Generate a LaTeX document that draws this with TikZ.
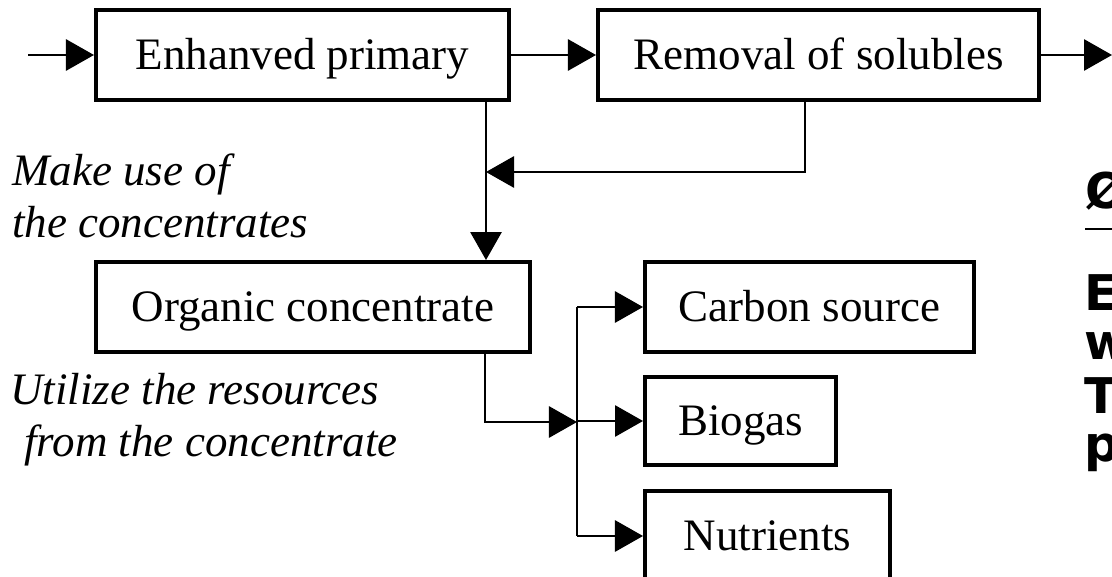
\documentclass[tikz,border=0pt]{standalone}
\usepackage{fontspec}
\setmainfont{Liberation Serif}
\newfontfamily\headfont{DejaVu Sans}
\usetikzlibrary{arrows.meta}
\tikzset{
  stage/.style={draw,line width=2.8pt,inner sep=0pt,minimum height=2.25cm,
    text height=24pt,text depth=3pt,font=\fontsize{32}{37}\selectfont},
  conn/.style={line width=1.6pt,-{Triangle[length=0.7cm,width=0.78cm]}},
  bar/.style={line width=1.6pt},
  note/.style={font=\fontsize{32}{37}\selectfont\itshape,align=left,anchor=west,inner sep=0pt},
  cut/.style={font=\fontsize{35}{40}\selectfont\headfont\bfseries,anchor=base west,inner sep=0pt}
}
\begin{document}
\begin{tikzpicture}[x=0.025cm,y=-0.025cm]
        \useasboundingbox (0,0) rectangle (1112,577);
        \clip (0,0) rectangle (1112,577);
        %% process stages
        \node[stage,minimum width=10.325cm] (enh) at (302.5,55) {Enhanved primary};
        \node[stage,minimum width=11.025cm] (rem) at (818.5,55) {Removal of solubles};
        \node[stage,minimum width=10.85cm] (org) at (313,307) {Organic concentrate};
        \node[stage,minimum width=8.225cm] (carb) at (809.5,307) {Carbon source};
        \node[stage,minimum width=4.775cm,minimum height=2.2cm] (bio) at (740.5,421) {Biogas};
        \node[stage,minimum width=6.125cm] (nutr) at (767.5,536) {Nutrients};
        %% notes
        \node[note] (use) at (12,196) {Make use of\\the concentrates};
        \node[note] (util) at (10,420) {Utilize the resources\\\hspace{10pt}from the concentrate};
        %% main line
        \coordinate (in) at (28,55);
        \coordinate (out) at (1112,55);
        \draw[conn] (in) -- (enh);
        \draw[conn] (enh) -- (rem);
        \draw[conn] (rem) -- (out);
        %% concentrates
        \coordinate (jn) at (486,172);
        \coordinate (fb) at (805,172);
        \draw[conn] (enh.south -| jn) -- (org.north -| jn);
        \draw[conn] (rem.south -| fb) -- (fb) -- (jn);
        %% resources
        \coordinate (od) at (485,422);
        \coordinate (bus) at (577,422);
        \draw[conn] (org.south -| od) -- (od) -- (bus);
        \draw[bar] (bus |- carb) -- (bus |- nutr);
        \foreach \n in {carb,bio,nutr} \draw[conn] (bus |- \n) -- (\n);
        %% cut-off text at the right edge
        \node[cut] (oe) at (1085,208) {Ø};
        \draw[line width=1.2pt] (1085,229) -- (1112,229);
        \node[cut] (l1) at (1084,310) {E};
        \node[cut] (l2) at (1084,359) {w};
        \node[cut] (l3) at (1084,413) {T};
        \node[cut] (l4) at (1084,461) {p};
    \end{tikzpicture}
\end{document}
